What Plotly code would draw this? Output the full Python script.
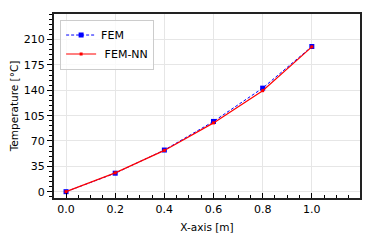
import plotly.graph_objects as go

x_vals = [0.0, 0.2, 0.4, 0.6, 0.8, 1.0]
fem = [0.0, 25.5, 57.5, 97.0, 143.0, 200.5]
fem_nn = [0.0, 26.0, 57.0, 95.0, 139.5, 200.0]
y_ticks = [0, 35, 70, 105, 140, 175, 210]
x_ticks = [0.0, 0.2, 0.4, 0.6, 0.8, 1.0]

font = "DejaVu Sans"
fig = go.Figure()
fig.add_trace(go.Scatter(x=x_vals, y=fem, name="FEM", mode="lines+markers",
                         line=dict(color="blue", width=1, dash="3px,2px"),
                         marker=dict(symbol="square", size=5, color="blue")))
fig.add_trace(go.Scatter(x=x_vals, y=fem_nn, name=" FEM-NN", mode="lines+markers",
                         line=dict(color="red", width=1.2),
                         marker=dict(symbol="square", size=3, color="red")))

fig.update_layout(
    width=366, height=241,
    margin=dict(l=46, r=14, t=6, b=51),
    paper_bgcolor="white", plot_bgcolor="white",
    font=dict(family=font, size=11, color="black"),
    showlegend=True,
    legend=dict(x=0.02, y=0.97, xanchor="left", yanchor="top",
                bgcolor="rgba(255,255,255,0.8)", bordercolor="#cccccc", borderwidth=1,
                font=dict(size=11), tracegroupgap=0, itemwidth=30),
)
fig.update_xaxes(
    range=[-0.049, 1.196], tickvals=x_ticks, ticktext=[f"{v:.1f}" for v in x_ticks],
    ticks="inside", ticklen=5, tickwidth=1, tickcolor="black",
    minor=dict(ticks="inside", dtick=0.05, tick0=0, ticklen=3, tickcolor="black", showgrid=False),
    showgrid=True, gridcolor="#e6e6e6", gridwidth=1,
    showline=True, linecolor="#222222", linewidth=2, mirror=True,
    zeroline=False, automargin=False,
    title=dict(text="X-axis [m]", font=dict(size=10.5), standoff=8),
)
fig.update_yaxes(
    range=[-8.75, 245.4], tickvals=y_ticks,
    ticks="outside", ticklen=5, tickwidth=1, tickcolor="black",
    minor=dict(ticks="outside", dtick=7, tick0=0, ticklen=3, tickcolor="black", showgrid=False),
    showgrid=True, gridcolor="#e6e6e6", gridwidth=1,
    showline=True, linecolor="#222222", linewidth=2, mirror=True,
    zeroline=False, automargin=True,
    title=dict(text="Temperature [°C]", font=dict(size=10.5), standoff=3),
)
fig.write_html("out.html")
